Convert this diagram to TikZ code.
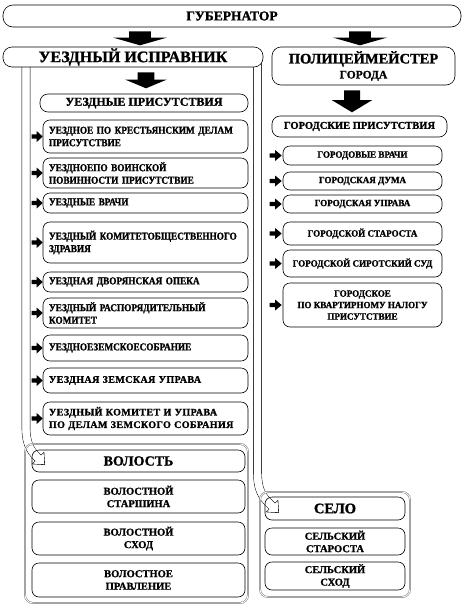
\documentclass[tikz,border=0pt]{standalone}
\usepackage{fontspec}
\setmainfont{Liberation Serif}[BoldFeatures={FakeBold=1.2}]
\usetikzlibrary{arrows.meta, backgrounds}

\newcommand{\headfont}{\bfseries\fontsize{16}{18}\selectfont}
\newcommand{\itemfont}{\bfseries\fontsize{10.5}{12.5}\selectfont\addfontfeature{FakeStretch=0.88}}
\newcommand{\wideitemfont}{\bfseries\fontsize{10}{12.5}\selectfont\addfontfeature{LetterSpace=4}}
\newcommand{\cityfont}{\bfseries\fontsize{9.5}{11.5}\selectfont\addfontfeature{FakeStretch=0.95}}
\newcommand{\volfont}{\bfseries\fontsize{10.5}{12.5}\selectfont}

\tikzset{
  pics/blockarrow/.style args={#1/#2}{code={
    \fill (-0.2*#1,0) -- (0.2*#1,0) -- (0.2*#1,0.45*#2) -- (0.5*#1,0.45*#2)
      -- (0,#2) -- (-0.5*#1,0.45*#2) -- (-0.2*#1,0.45*#2) -- cycle;
  }}
}

\begin{document}
\begin{tikzpicture}[x=1pt, y=-1pt,
    box/.style={draw, line width=0.6pt, rounded corners=7pt, fill=white, inner sep=0pt, align=center},
    ubox/.style={box, minimum width=205pt, text width=193pt, align=left, font=\itemfont},
    gbox/.style={box, minimum width=159pt, font=\cityfont},
    vbox/.style={box, fill=none, minimum width=213pt, font=\volfont},
    sbox/.style={box, fill=none, minimum width=140pt, font=\volfont},
    grp/.style={draw=black!55, double=white, double distance=0.8pt, line width=0.5pt, rounded corners=8pt, inner sep=0pt},
    hollowout/.style={line width=8.6pt, -{Triangle[length=10pt, width=17pt]}},
    hollowin/.style={white, line width=7.4pt, shorten >=0.93pt, -{Triangle[length=8.47pt, width=14.4pt]}},
    hollowfix/.style={white, line width=7.4pt, shorten >=8pt}]
  \useasboundingbox (0,0) rectangle (464,606);

  % top levels
  \node[box, minimum width=458pt, minimum height=22pt, rounded corners=10pt,
        font=\bfseries\fontsize{13.5}{15}\selectfont] (gub) at (232,16) {ГУБЕРНАТОР};
  \node[box, minimum width=260pt, minimum height=20pt, rounded corners=9pt, font=\headfont] (isp) at (133,57) {УЕЗДНЫЙ ИСПРАВНИК};
  \node[box, minimum width=183pt, minimum height=38pt, rounded corners=9pt] (pol) at (363.5,66)
    {{\bfseries\fontsize{14.5}{16}\selectfont ПОЛИЦЕЙМЕЙСТЕР}\\[3pt]{\bfseries\fontsize{11.5}{13}\selectfont ГОРОДА}};

  \pic at ([yshift=-4pt]gub.south -| 140,0) {blockarrow=54/14};
  \pic at ([yshift=-4pt]gub.south -| 360,0) {blockarrow=54/14};
  \pic at ([yshift=-5pt]isp.south -| 146,0) {blockarrow=42/16};
  \pic at ([yshift=-5pt]pol.south -| 352,0) {blockarrow=40/22};

  % county offices
  \node[box, minimum width=208pt, minimum height=18pt, rounded corners=8pt,
        font=\bfseries\fontsize{12}{14}\selectfont] (uprs) at (144,103) {УЕЗДНЫЕ ПРИСУТСТВИЯ};
  \node[ubox, minimum height=33pt] (u1) at (145.5,136.5) {УЕЗДНОЕ ПО КРЕСТЬЯНСКИМ ДЕЛАМ\\ПРИСУТСТВИЕ};
  \node[ubox, minimum height=30pt] (u2) at (145.5,173) {УЕЗДНОЕПО ВОИНСКОЙ\\ПОВИННОСТИ ПРИСУТСТВИЕ};
  \node[ubox, minimum height=20pt] (u3) at (145.5,203) {УЕЗДНЫЕ ВРАЧИ};
  \node[ubox, minimum height=41pt] (u4) at (145.5,242.5) {УЕЗДНЫЙ КОМИТЕТОБЩЕСТВЕННОГО\\ЗДРАВИЯ};
  \node[ubox, minimum height=20pt] (u5) at (145.5,282) {УЕЗДНАЯ ДВОРЯНСКАЯ ОПЕКА};
  \node[ubox, minimum height=30pt] (u6) at (145.5,313) {УЕЗДНЫЙ РАСПОРЯДИТЕЛЬНЫЙ\\КОМИТЕТ};
  \node[ubox, minimum height=26pt] (u7) at (145.5,348) {УЕЗДНОЕЗЕМСКОЕСОБРАНИЕ};
  \node[ubox, minimum height=25pt, font=\wideitemfont] (u8) at (145.5,380.5) {УЕЗДНАЯ ЗЕМСКАЯ УПРАВА};
  \node[ubox, minimum height=33pt, font=\wideitemfont] (u9) at (145.5,418.5) {УЕЗДНЫЙ КОМИТЕТ И УПРАВА\\ПО ДЕЛАМ ЗЕМСКОГО СОБРАНИЯ};
  \foreach \n in {1,...,9}
    \pic[rotate=90] at ([xshift=-11pt]u\n.west) {blockarrow=11/11};

  % city offices
  \node[box, minimum width=175pt, minimum height=21pt, rounded corners=8pt,
        font=\bfseries\fontsize{10.5}{12}\selectfont] (gprs) at (359.5,126.5) {ГОРОДСКИЕ ПРИСУТСТВИЯ};
  \node[gbox, minimum height=19pt] (g1) at (362.5,155.5) {ГОРОДОВЫЕ ВРАЧИ};
  \node[gbox, minimum height=18pt] (g2) at (362.5,181) {ГОРОДСКАЯ ДУМА};
  \node[gbox, minimum height=18pt] (g3) at (362.5,204) {ГОРОДСКАЯ УПРАВА};
  \node[gbox, minimum height=23pt] (g4) at (362.5,233.5) {ГОРОДСКОЙ СТАРОСТА};
  \node[gbox, minimum height=27pt] (g5) at (362.5,263.5) {ГОРОДСКОЙ СИРОТСКИЙ СУД};
  \node[gbox, minimum height=44pt] (g6) at (362.5,305) {ГОРОДСКОЕ\\ПО КВАРТИРНОМУ НАЛОГУ\\ПРИСУТСТВИЕ};
  \foreach \n in {1,...,6}
    \pic[rotate=90] at ([xshift=-13pt]g\n.west) {blockarrow=11/12};

  % volost and village
  \node[grp, minimum width=223pt, minimum height=159pt] (volgrp) at (136.5,523.5) {};
  \node[vbox, minimum height=22pt, font=\bfseries\fontsize{14}{16}\selectfont] (vol) at (138.5,461) {ВОЛОСТЬ};
  \node[vbox, minimum height=33pt] (v1) at (138.5,496.5) {ВОЛОСТНОЙ\\СТАРШИНА};
  \node[vbox, minimum height=33pt] (v2) at (138.5,538.5) {ВОЛОСТНОЙ\\СХОД};
  \node[vbox, minimum height=34pt] (v3) at (138.5,580) {ВОЛОСТНОЕ\\ПРАВЛЕНИЕ};

  \node[grp, minimum width=150pt, minimum height=105pt] (selgrp) at (335,544.5) {};
  \node[sbox, minimum height=23pt, font=\bfseries\fontsize{14.5}{16}\selectfont] (selo) at (335,508.5) {СЕЛО};
  \node[sbox, minimum height=27pt] (s1) at (335,541.5) {СЕЛЬСКИЙ\\СТАРОСТА};
  \node[sbox, minimum height=28pt] (s2) at (335,576) {СЕЛЬСКИЙ\\СХОД};

  % hollow arrows down to volost and village
  \coordinate (volstart) at (26,0 |- isp.center);
  \coordinate (voltip) at (45,465);
  \coordinate (selstart) at (257.5,0 |- isp.center);
  \coordinate (seltip) at (279,513);
  \begin{pgfonlayer}{background}
    \foreach \s in {hollowout, hollowin, hollowfix} {
      \draw[\s] (volstart) -- (26,428) .. controls (26,447) and (33,453) .. (voltip);
      \draw[\s] (selstart) -- (257.5,472) .. controls (257.5,494) and (265,499) .. (seltip);
    }
  \end{pgfonlayer}
\end{tikzpicture}
\end{document}
